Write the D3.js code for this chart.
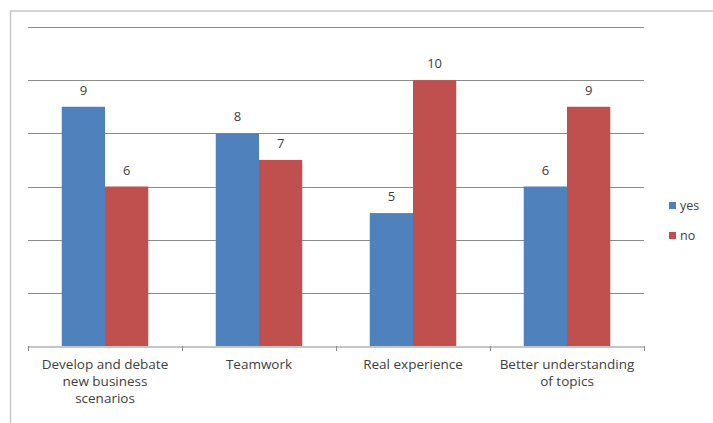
<!DOCTYPE html>
<html>
<head>
<meta charset="utf-8">
<script src="https://cdn.jsdelivr.net/npm/d3@7"></script>
<style>
  body { margin: 0; background: #fff; }
  svg text { font-family: "Open Sans", "Liberation Sans", sans-serif; fill: #404040; }
</style>
</head>
<body>
<svg id="chart" width="713" height="423"></svg>
<script>
// chart data
var categories = [
  ["Develop and debate", "new business", "scenarios"],
  ["Teamwork"],
  ["Real experience"],
  ["Better understanding", "of topics"]
]
var seriesNames = ["yes", "no"]
var yesValues = [9, 8, 5, 6]
var noValues = [6, 7, 10, 9]
var yTicks = [0, 2, 4, 6, 8, 10, 12]
var colors = ["#4f81bd", "#c0504d"]

var svg = d3.select("#chart")
var margin = { top: 27, left: 28 }
var plotW = 644 - margin.left
var plotH = 346 - margin.top

// frame around chart area
svg.append("path")
  .attr("d", "M10.5,423 L10.5,11 L713,11")
  .attr("fill", "none")
  .attr("stroke", "#c8c8c8")
  .attr("stroke-width", 1.5)

var g = svg.append("g").attr("transform", "translate(" + margin.left + "," + margin.top + ")")

var x0 = d3.scaleBand()
  .domain(d3.range(categories.length))
  .range([0, plotW])

var x1 = d3.scaleBand()
  .domain(seriesNames)
  .range([0, x0.bandwidth()])
  .paddingOuter(0.78)

var y = d3.scaleLinear().domain([0, 12]).range([plotH, 0])

// gridlines
g.selectAll(".grid")
  .data(yTicks.filter(function (d) { return d > 0 }))
  .enter()
  .append("line")
  .attr("class", "grid")
  .attr("x1", 0)
  .attr("x2", plotW)
  .attr("y1", function (d) { return Math.round(y(d)) + 0.5 })
  .attr("y2", function (d) { return Math.round(y(d)) + 0.5 })
  .attr("stroke", "#8c8c8c")
  .attr("stroke-width", 1)

var rows = categories.map(function (c, i) {
  return { i: i, values: [yesValues[i], noValues[i]] }
})

var groups = g.selectAll(".grp")
  .data(rows)
  .enter()
  .append("g")
  .attr("transform", function (d) { return "translate(" + x0(d.i) + ",0)" })

groups.selectAll("rect")
  .data(function (d) { return d.values.map(function (v, k) { return { k: k, v: v } }) })
  .enter()
  .append("rect")
  .attr("x", function (d) { return x1(seriesNames[d.k]) })
  .attr("width", x1.bandwidth())
  .attr("y", function (d) { return y(d.v) })
  .attr("height", function (d) { return plotH - y(d.v) })
  .attr("fill", function (d) { return colors[d.k] })

groups.selectAll(".val")
  .data(function (d) { return d.values.map(function (v, k) { return { k: k, v: v } }) })
  .enter()
  .append("text")
  .attr("class", "val")
  .attr("x", function (d) { return x1(seriesNames[d.k]) + x1.bandwidth() / 2 })
  .attr("y", function (d) { return y(d.v) - 12 })
  .attr("text-anchor", "middle")
  .attr("font-size", 13)
  .text(function (d) { return d.v })

// x axis
var xAxis = d3.axisBottom(x0).tickSize(0).tickFormat("")
var ax = g.append("g").attr("transform", "translate(0," + (plotH + 0.5) + ")").call(xAxis)
ax.select(".domain").attr("stroke", "#8c8c8c")

g.selectAll(".xtick")
  .data(d3.range(categories.length + 1))
  .enter()
  .append("line")
  .attr("x1", function (d) { return d * x0.step() + 0.5 })
  .attr("x2", function (d) { return d * x0.step() + 0.5 })
  .attr("y1", plotH)
  .attr("y2", plotH + 5)
  .attr("stroke", "#8c8c8c")

var labels = g.selectAll(".xlab")
  .data(categories)
  .enter()
  .append("text")
  .attr("class", "xlab")
  .attr("text-anchor", "middle")
  .attr("font-size", 13.5)
  .attr("x", function (d, i) { return x0(i) + x0.bandwidth() / 2 })
  .attr("y", plotH + 23)

labels.selectAll("tspan")
  .data(function (d) { return d })
  .enter()
  .append("tspan")
  .attr("x", function () { return d3.select(this.parentNode).attr("x") })
  .attr("dy", function (d, i) { return i === 0 ? 0 : 17 })
  .text(function (d) { return d })

// legend
var legend = svg.append("g").attr("transform", "translate(669,202)")
seriesNames.forEach(function (s, i) {
  legend.append("rect")
    .attr("x", 0)
    .attr("y", i * 30)
    .attr("width", 7)
    .attr("height", 7)
    .attr("fill", colors[i])
  legend.append("text")
    .attr("x", 11)
    .attr("y", i * 30 + 8)
    .attr("font-size", 12.5)
    .text(s)
})
</script>
</body>
</html>
